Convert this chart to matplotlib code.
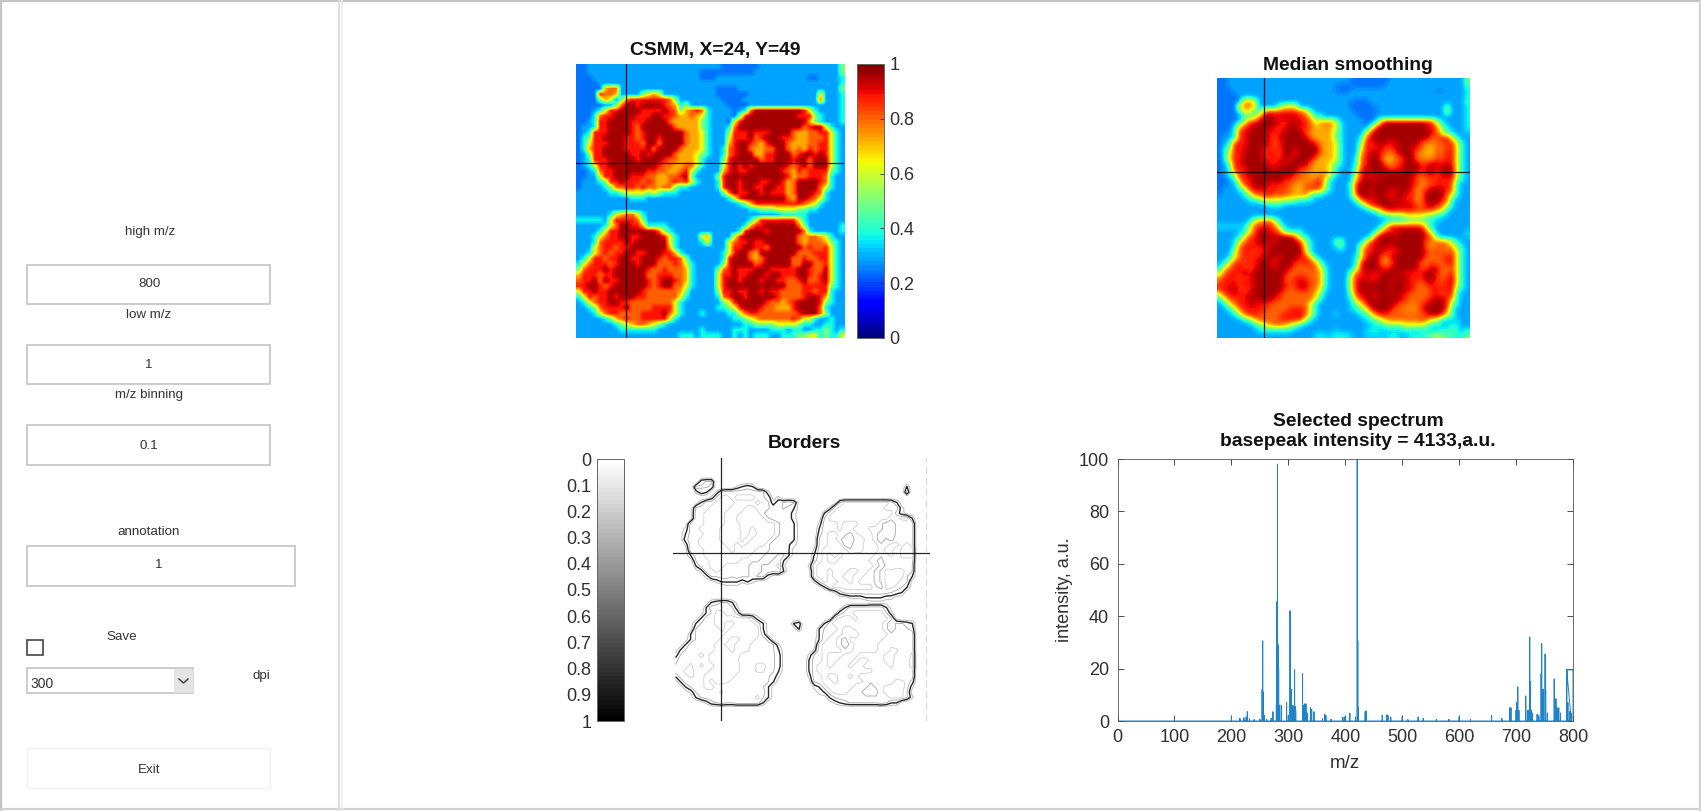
import numpy as np
import matplotlib
matplotlib.use("Agg")
import matplotlib.pyplot as plt
from matplotlib.patches import Rectangle

plt.rcParams['font.family'] = ['Liberation Sans', 'DejaVu Sans']

W, H = 1701, 811

# Intensity map on a 50 x 50 grid, one digit per cell (level index)
CSMM_ROWS = [
"1122222222 2222222222 2222222111 1111222222 2222222224",
"1122222222 2222222222 2221111111 1112222222 2222222224",
"1112222222 2222222222 2221112222 2222222222 2221122223",
"1111222222 2222222222 2222222222 2222222222 2222222223",
"1111167722 2222222222 2222221111 2222222222 2222222224",
"1111877622 2245652222 2222221111 1122222222 2222252223",
"1111465247 8888888742 2222222111 1222222222 2222272223",
"1111122479 9899998763 4222222211 1122222222 2222222223",
"1112358899 9988889874 6787322221 2379999999 9985322223",
"1113788999 9888998876 6765322221 4899999999 9888432223",
"1123889999 8889999766 6664322215 8999999999 9996432223",
"1223889999 8799999976 6664322237 9999999999 9978995322",
"1238889999 8789999999 7665322248 8898889999 7667788532",
"1348899998 8789989999 7665322258 8897899988 7667778532",
"1358889998 8879979999 7665322268 9987689997 6667788532",
"1368899998 8889799997 6665322378 9976677997 6768788532",
"1248899999 8898999976 6654322378 9996688999 7899898532",
"1238889999 9899998776 6653222489 9999788999 8997999532",
"1235889999 9999987766 7753222589 8989999998 7897999532",
"1123788999 9998877667 8532222689 8899999987 6878888432",
"1122588999 8887766778 9422224899 9999999998 6778887322",
"1222348898 8878766787 8532223899 8999889986 7999987322",
"1222234778 8787767743 3222223899 8998899886 7999975322",
"2222223345 5554543332 2222222479 8899898886 7999873222",
"2222222222 3332222222 2222222235 8999999997 6998753222",
"2222222222 2222222222 2222222222 3468888888 8876532222",
"2222222222 2222222222 2222222222 2233444555 5443322222",
"2222223567 7532222222 2222222222 2222222233 3332222222",
"3333325888 8742222222 2222222222 2235888888 8532222222",
"2222235799 8863333222 2222222222 2368899999 9742222223",
"2222358899 9999974322 2222222222 3899989999 9973222223",
"2223578899 8899998532 2225622225 8999999999 9767765322",
"2223788889 8999999532 2223522257 8898899999 9767776432",
"2225788788 9999999632 2222222258 8998879999 9978778532",
"2235787889 9889998863 2222222358 9976999999 9777888532",
"2358878899 8899987887 4222222389 9976799999 7787788532",
"3578887899 9899977787 5322222489 9997899999 7799778532",
"4788898999 9998778777 6322224789 8889998888 8998779532",
"6888788999 9997788877 6322225889 8899989988 8998789532",
"7889798899 9998789987 6322225899 8999899887 7897789532",
"8899878999 9998789977 5322225899 9999999997 7788888432",
"5889889999 9987777776 4222224889 8899898877 7788788322",
"3587889899 9887777775 3222223789 9899999877 7789986322",
"2357889988 7777777753 2222222458 9999987767 8999984322",
"2234788889 7777888853 2222223345 8999877666 8999973222",
"2223578877 7788889753 2223222233 5788777777 7899974222",
"2222234678 7788888532 2222222223 3456777777 8755322322",
"2222222345 6776543222 2222222222 2334444555 5433223322",
"2222222233 3333322222 2223222223 3322223332 3322334323",
"2222222222 2222222223 3323333223 2323332233 3445534335",
]
LEVEL_VALUES = [0.20, 0.24, 0.29, 0.38, 0.50, 0.62, 0.72, 0.80, 0.88, 0.96]

CROSS_X = 0.185   # X=24 as fraction of the map width
CROSS_Y = 0.362   # Y=49 as fraction of the map height

CB_JET_TICKS = [0, 0.2, 0.4, 0.6, 0.8, 1]
CB_JET_LABELS = ['0', '0.2', '0.4', '0.6', '0.8', '1']
CB_GRAY_TICKS = [0, .1, .2, .3, .4, .5, .6, .7, .8, .9, 1]
CB_GRAY_LABELS = ['0', '0.1', '0.2', '0.3', '0.4', '0.5', '0.6', '0.7', '0.8', '0.9', '1']

MZ_TICKS = [0, 100, 200, 300, 400, 500, 600, 700, 800]
INT_TICKS = [0, 20, 40, 60, 80, 100]

PEAK_MZ = [200, 215, 222, 226, 228, 232, 240, 250, 254, 255, 256, 258, 262, 270, 273, 279, 280, 281, 282,
           283, 285, 288, 297, 300, 303, 305, 307, 309, 311, 312, 313, 325, 327, 329, 331, 333, 339, 341,
           345, 360, 364, 366, 375, 395, 398, 400, 408, 418, 421, 422, 423, 435, 437, 465, 473, 475, 480,
           500, 510, 528, 537, 560, 582, 600, 620, 657, 675, 689, 691, 700, 701, 703, 705, 717, 720, 722,
           724, 725, 727, 729, 737, 740, 744, 745, 746, 748, 751, 752, 755, 767, 768, 770, 772, 775, 778,
           789, 791, 794, 797]
PEAK_INT = [1.5, 1, 1.2, 1.5, 3.5, 0.8, 0.5, 0.6, 12, 30.5, 11, 2, 0.5, 1, 3.5, 6, 45.5, 98, 29,
            20, 6, 6, 7, 2, 42, 12, 6, 5.5, 19.5, 5.5, 4, 18, 6, 6.5, 6.5, 3, 5, 4.5,
            3.5, 0.8, 2.5, 2, 0.6, 1.2, 1.5, 1.5, 3, 1.5, 100, 30.5, 5, 3.5, 3.8, 2.2, 2.3, 2, 1.3,
            1.5, 0.5, 1.5, 1, 0.5, 0.6, 1.5, 0.5, 2, 1, 5, 5, 4, 7, 13, 4, 9.5, 4, 4,
            32, 15, 4, 3, 2.5, 2, 18, 29.5, 12, 12, 25.5, 12, 3, 16, 6, 8.5, 5, 5, 3,
            19.5, 7, 3.5, 3]
STEP_MZ = [789, 800, 800]
STEP_INT = [19.5, 19.5, 0]

FIELD_LABELS = ['high m/z', 'low m/z', 'm/z binning', 'annotation', 'Save', 'dpi']
FIELD_VALUES = ['800', '1', '0.1', '1']
COMBO_VALUE = '300'
BUTTON_LABEL = 'Exit'

TITLE_CSMM = 'CSMM, X=24, Y=49'
TITLE_MEDIAN = 'Median smoothing'
TITLE_BORDERS = 'Borders'
TITLE_SPECTRUM = ['Selected spectrum', 'basepeak intensity = 4133,a.u.']
XLABEL = 'm/z'
YLABEL = 'intensity, a.u.'

# ---------------------------------------------------------------------------
rows = [r.replace(' ', '') for r in CSMM_ROWS]
levels = np.array([[int(c) for c in r] for r in rows])
csmm = np.array(LEVEL_VALUES)[levels]

# median smoothing of the map (3x3 window, edges kept by padding)
padded = np.pad(csmm, 1, mode='edge')
median = np.median(np.lib.stride_tricks.sliding_window_view(padded, (3, 3)), axis=(2, 3))
median = 0.5 * median + 0.5 * csmm

INK = '#303030'
TITLE_SIZE = 13.9
fig = plt.figure(figsize=(W / 100, H / 100), dpi=100, facecolor='white')


def axes_px(x0, y0, x1, y1, **kw):
    return fig.add_axes([x0 / W, 1 - y1 / H, (x1 - x0) / W, (y1 - y0) / H], **kw)


# GUI layer ------------------------------------------------------------------
ui = axes_px(0, 0, W, H)
ui.set_xlim(0, W)
ui.set_ylim(H, 0)
ui.axis('off')


def box(x0, y0, x1, y1, edge='#c4c4c4', face='white', lw=1.2, z=2):
    ui.add_patch(Rectangle((x0, y0), x1 - x0, y1 - y0, fc=face, ec=edge, lw=lw, zorder=z))


def label(x, y, s, ha='center', size=9.6):
    ui.text(x, y, s, ha=ha, va='center', fontsize=size, color='#333333', zorder=5)


def title(x, y, s):
    ui.text(x, y, s, ha='center', va='center', fontsize=TITLE_SIZE, fontweight='bold',
            color='#111111', zorder=5)


ui.plot([0, W], [1, 1], color='#c4c4c4', lw=1.6)
ui.plot([1, 1], [0, H], color='#c4c4c4', lw=1.6)
ui.plot([0, W], [809, 809], color='#d2d2d2', lw=1.6)
ui.plot([1699.5, 1699.5], [0, H], color='#d2d2d2', lw=1.6)
ui.plot([339, 339], [0, H], color='#dedede', lw=1.4)
ui.plot([342, 342], [0, H], color='#ececec', lw=1.2)

box(27, 265, 270, 304)
box(27, 345, 270, 384)
box(27, 425, 270, 465)
box(27, 546, 295, 586)
box(27, 640, 43, 655, edge='#444444', lw=1.2)
box(27, 668, 193, 693)
box(174, 669, 193, 692, edge='#e0e0e0', face='#e4e4e4', lw=0.5)
ui.plot([179, 183.5, 188], [679, 683, 679], color='#444444', lw=1.1, zorder=4)
box(27, 748, 270, 788, edge='#f0f0f0', lw=1.0)

label(150, 232, FIELD_LABELS[0])
label(149, 315, FIELD_LABELS[1])
label(149, 395, FIELD_LABELS[2])
label(149, 532, FIELD_LABELS[3])
label(122, 637, FIELD_LABELS[4])
label(261, 676, FIELD_LABELS[5])
label(149, 284, FIELD_VALUES[0])
label(149, 365, FIELD_VALUES[1])
label(149, 446, FIELD_VALUES[2])
label(159, 565, FIELD_VALUES[3])
label(30, 684, COMBO_VALUE, ha='left', size=10)
label(149, 770, BUTTON_LABEL)

# Maps -----------------------------------------------------------------------
CROSS_KW = dict(color='black', lw=0.9, alpha=0.85)


def heatmap(rect, data, interp):
    ax = axes_px(*rect)
    im = ax.imshow(data, cmap=plt.get_cmap('jet', 64), vmin=0, vmax=1, aspect='auto',
                   interpolation=interp, extent=(0, 1, 1, 0))
    ax.axvline(CROSS_X, **CROSS_KW)
    ax.axhline(CROSS_Y, **CROSS_KW)
    ax.set_xticks([])
    ax.set_yticks([])
    for s in ax.spines.values():
        s.set_visible(False)
    return im


im1 = heatmap((576, 64, 844, 338), csmm, 'bilinear')
heatmap((1217, 78, 1470, 338), median, 'bicubic')
title(715, 50, TITLE_CSMM)
title(1348, 65, TITLE_MEDIAN)

cax = axes_px(857, 64, 884, 338)
cb = fig.colorbar(im1, cax=cax)
cb.set_ticks(CB_JET_TICKS, labels=CB_JET_LABELS)
cb.ax.tick_params(direction='in', length=3, width=0.6, labelsize=13, colors=INK, pad=4)
cb.outline.set_edgecolor('#666666')
cb.outline.set_linewidth(0.7)

# Borders: iso-lines of the same map -----------------------------------------
edge_map = csmm.copy()
edge_map[:, 47:] = LEVEL_VALUES[2]          # the rim of the map carries no spot border
edge_map[:4, :] = LEVEL_VALUES[2]
edge_map[47:, :] = LEVEL_VALUES[2]
bax = axes_px(673, 458, 930, 721)
ny, nx = edge_map.shape
gx = (np.arange(nx) + 0.5) / nx
gy = (np.arange(ny) + 0.5) / ny
bax.contour(gx, gy, edge_map, levels=[0.6], colors='#000000', linewidths=1.0, alpha=0.85)
bax.contour(gx, gy, edge_map, levels=[0.45], colors='#8a8a8a', linewidths=0.7, alpha=0.6)
bax.contour(gx, gy, edge_map, levels=[0.78], colors='#6a6a6a', linewidths=0.6, alpha=0.6)
bax.contour(gx, gy, edge_map, levels=[0.92], colors='#8c8c8c', linewidths=0.5, alpha=0.5)
bax.set_xlim(0, 1)
bax.set_ylim(1, 0)
bax.axvline(CROSS_X, **CROSS_KW)
bax.axhline(CROSS_Y, **CROSS_KW)
bax.axvline(0.985, color='#dcdcdc', lw=0.9, ls=(0, (6, 3)))
bax.set_xticks([])
bax.set_yticks([])
for s in bax.spines.values():
    s.set_visible(False)
title(804.5, 444, TITLE_BORDERS)

gax = axes_px(597, 459, 624, 721)
sm = plt.cm.ScalarMappable(cmap=plt.get_cmap('gray_r', 64), norm=plt.Normalize(0, 1))
gcb = fig.colorbar(sm, cax=gax)
gcb.set_ticks(CB_GRAY_TICKS, labels=CB_GRAY_LABELS)
gax.invert_yaxis()
gax.yaxis.set_ticks_position('left')
gax.tick_params(direction='in', length=0, labelsize=13, colors=INK, pad=4)
gcb.outline.set_edgecolor('#666666')
gcb.outline.set_linewidth(0.7)

# Spectrum -------------------------------------------------------------------
sax = axes_px(1117.5, 459, 1573, 721)
xs, ys = [0.0], [0.0]
for m, v in zip(PEAK_MZ, PEAK_INT):
    xs += [m, m, m]
    ys += [0, v, 0]
xs += STEP_MZ
ys += STEP_INT
sax.plot(xs, ys, color='#1f83c9', lw=0.7)
sax.set_xlim(0, 800)
sax.set_ylim(0, 100)
sax.set_xticks(MZ_TICKS)
sax.set_yticks(INT_TICKS)
sax.tick_params(direction='in', length=4, width=0.6, top=True, right=True, labelsize=13,
                colors=INK, pad=6)
for s in sax.spines.values():
    s.set_color('#555555')
    s.set_linewidth(0.6)
sax.set_xlabel(XLABEL, fontsize=13.5, color=INK, labelpad=6)
sax.set_ylabel(YLABEL, fontsize=13, color=INK, labelpad=4)
title(1358, 422, TITLE_SPECTRUM[0])
title(1358, 441, TITLE_SPECTRUM[1])

fig.savefig('out.png', dpi=100, facecolor='white')
